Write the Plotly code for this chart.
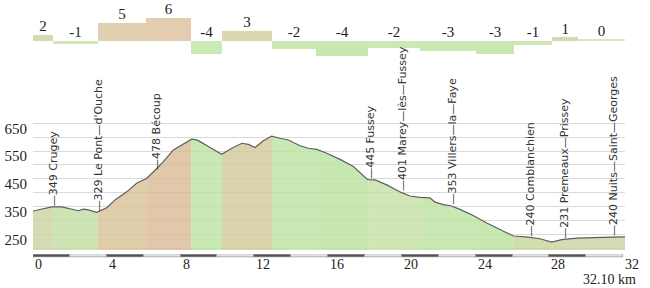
import numpy as np
import plotly.graph_objects as go

# ---------------- data ----------------
profile_km = [0, 0.56, 1.02, 1.56, 2.0, 2.46, 2.73, 3.0, 3.45, 4.0, 4.45, 5.08, 5.62, 6.17,
              6.58, 7.07, 7.61, 8.06, 8.6, 8.88, 9.06, 9.6, 10.23, 10.78, 11.32, 11.68, 12.04,
              12.49, 12.94, 13.39, 13.85, 14.48, 14.93, 15.39, 15.93, 16.65, 17.37, 18.15,
              18.55, 19.18, 19.96, 20.44, 20.99, 21.53, 21.8, 22.25, 22.65, 23.15, 23.87,
              24.6, 25.33, 26.05, 26.86, 27.49, 28.13, 28.67, 29.48, 30.39, 31.33, 32.1]
profile_elev = [334, 341, 349, 349, 341, 335, 341, 338, 329, 346, 374, 403, 434, 452,
                478, 512, 554, 572, 593, 590, 584, 563, 538, 560, 578, 574, 563,
                587, 604, 596, 590, 569, 560, 556, 542, 520, 494, 447,
                446, 428, 401, 388, 383, 381, 366, 357, 353, 340, 318,
                291, 268, 244, 240, 234, 222, 231, 236, 239, 240, 241]

segment_bounds = [0, 1.08, 3.52, 6.13, 8.57, 10.25, 12.96, 15.35, 18.17, 20.99, 24.02,
                  26.08, 28.15, 29.56, 32.1]
segment_grades = [1.6, -0.8, 4.7, 6.0, -3.5, 2.6, -2.2, -4.0, -1.8, -2.6, -3.4, -1.0, 0.9, 0.2]
grade_labels = ["2", "-1", "5", "6", "-4", "3", "-2", "-4", "-2", "-3", "-3", "-1", "1", "0"]

place_km = [1.02, 3.45, 6.58, 18.15, 19.96, 22.65, 26.86, 28.67, 31.33]
place_labels = ["—349 Crugey", "—329 Le Pont—d'Ouche", "—478 Bécoup", "—445 Fussey",
                "—401 Marey—lès—Fussey", "—353 Villers—la—Faye", "—240 Comblanchien",
                "—231 Premeaux—Prissey", "—240 Nuits—Saint—Georges"]

elev_tickvals = [200, 250, 300, 350, 400, 450, 500, 550, 600, 650]
elev_ticktext = ["", "250", "", "350", "", "450", "", "550", "", "650"]
dist_ticks = [0, 4, 8, 12, 16, 20, 24, 28, 32]
total_label = "32.10 km"
scale_step = 2

# ---------------- styles ----------------
bar_colors = ["#d5dab0", "#cfe6b6", "#e0d0b0", "#e4ccb0", "#c8eab4", "#dad6b0", "#c9e8b4",
              "#c8e8b2", "#cbe8b6", "#c8e8b4", "#c8e8b2", "#cfe6b6", "#d4dab0", "#dde6bf"]
band_colors = ["#d6dbb3", "#cfe4b5", "#dfcdab", "#e2c8aa", "#c9e9b4", "#dad3ad", "#c9e9b4",
               "#c8e8b2", "#d0e6b6", "#cae8b4", "#c8e8b2", "#d3ddb2", "#d6dab2", "#d6dab2"]
ALPHA = 0.8
H = 288.0
SERIF = "Liberation Serif, Times New Roman, Times, serif"
SANS = "DejaVu Sans, Verdana, sans-serif"


def see_through(hex_color, a=ALPHA):
    c = [int(hex_color[i:i + 2], 16) for i in (1, 3, 5)]
    f = [max(0, min(255, round((v - (1 - a) * 255) / a))) for v in c]
    return f"rgba({f[0]},{f[1]},{f[2]},{a})"


km_arr = np.array(profile_km, dtype=float)
el_arr = np.array(profile_elev, dtype=float)

fig = go.Figure()

# colored bands under the profile
for i in range(len(segment_grades)):
    a, b = segment_bounds[i], segment_bounds[i + 1]
    inner = km_arr[(km_arr > a) & (km_arr < b)]
    xs = np.concatenate([[a], inner, [b]])
    ys = np.interp(xs, km_arr, el_arr)
    fig.add_trace(go.Scatter(x=xs, y=ys, mode="lines", line=dict(width=0),
                             fill="tozeroy", fillcolor=see_through(band_colors[i]),
                             hoverinfo="skip", showlegend=False, xaxis="x", yaxis="y"))

# profile line
fig.add_trace(go.Scatter(x=profile_km, y=profile_elev, mode="lines",
                         line=dict(color="#5f5f5f", width=1.2),
                         showlegend=False, xaxis="x", yaxis="y"))

# gradient bars
mids = [(segment_bounds[i] + segment_bounds[i + 1]) / 2 for i in range(len(segment_grades))]
widths = [segment_bounds[i + 1] - segment_bounds[i] for i in range(len(segment_grades))]
fig.add_trace(go.Bar(x=mids, y=segment_grades, width=widths,
                     marker=dict(color=bar_colors, line=dict(width=0)),
                     showlegend=False, xaxis="x2", yaxis="y2"))
fig.add_trace(go.Scatter(x=mids, y=[max(g, 0) for g in segment_grades], mode="text",
                         text=grade_labels, textposition="top center",
                         textfont=dict(family=SERIF, size=15, color="#222"),
                         showlegend=False, xaxis="x2", yaxis="y2"))

# distance scale bar
scale_mids = np.arange(scale_step / 2, 32, scale_step)
scale_cols = ["#525252" if k % 2 == 0 else "#e2e2e2" for k in range(len(scale_mids))]
fig.add_trace(go.Bar(x=scale_mids, y=[1] * len(scale_mids), width=scale_step,
                     marker=dict(color=scale_cols, line=dict(color="#9a9a9a", width=0.8)),
                     showlegend=False, xaxis="x3", yaxis="y3"))

# place labels
for k, t in zip(place_km, place_labels):
    e = float(np.interp(k, km_arr, el_arr))
    fig.add_annotation(x=k, y=e, xref="x", yref="y", text=t, textangle=-90,
                       showarrow=False, xanchor="center", yanchor="bottom", borderpad=0,
                       xshift=2, font=dict(family=SANS, size=11, color="#333"))

# distance tick labels
for d in dist_ticks:
    fig.add_annotation(x=d, y=1 - 264 / H, xref="x", yref="paper", text=str(d),
                       showarrow=False, xanchor="left", yanchor="middle", xshift=0,
                       font=dict(family=SERIF, size=14, color="#222"))
fig.add_annotation(x=1, y=1 - 279.5 / H, xref="paper", yref="paper", text=total_label,
                   showarrow=False, xanchor="right", yanchor="middle", xshift=13,
                   font=dict(family=SERIF, size=14, color="#222"))

xr = [0, 32.1]
fig.update_layout(
    width=650, height=288,
    margin=dict(l=33, r=25, t=0, b=0),
    paper_bgcolor="white", plot_bgcolor="rgba(0,0,0,0)",
    bargap=0,
    xaxis=dict(domain=[0, 1], range=xr, showgrid=False, showticklabels=False, zeroline=False,
               showline=False, ticks="", anchor="y"),
    yaxis=dict(domain=[1 - 250 / H, 1 - 110 / H], range=[193.5, 697.9],
               tickvals=elev_tickvals, ticktext=elev_ticktext, showgrid=True,
               gridcolor="#dadada", gridwidth=1, zeroline=False, ticks="",
               tickfont=dict(family=SERIF, size=15, color="#222"),
               ticklabelshift=5, ticklabelstandoff=5, anchor="x"),
    xaxis2=dict(domain=[0, 1], range=xr, visible=False, anchor="y2"),
    yaxis2=dict(domain=[1 - 60 / H, 1], range=[-5.08, 10.71], visible=False, anchor="x2"),
    xaxis3=dict(domain=[0, 1], range=xr, visible=False, anchor="y3"),
    yaxis3=dict(domain=[1 - 257.7 / H, 1 - 254.3 / H], range=[0, 1], visible=False, anchor="x3"),
)

fig.write_html("out.html")
